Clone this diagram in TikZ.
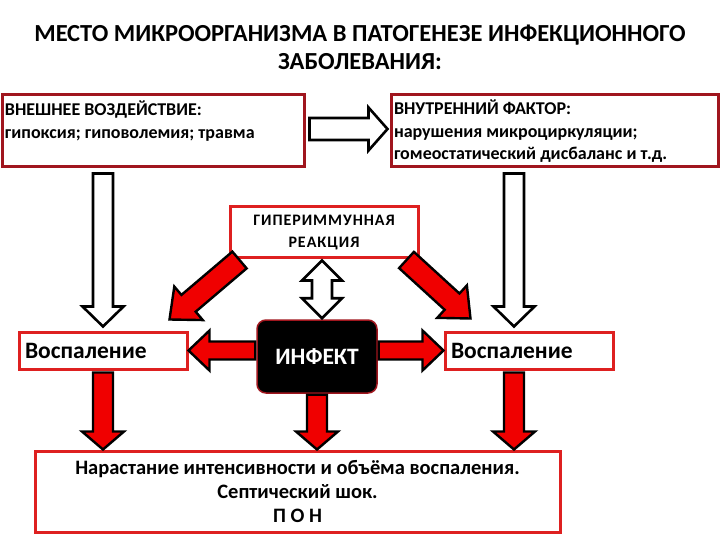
\documentclass[tikz,border=0pt]{standalone}
\usepackage{fontspec}
\setmainfont{Carlito}
\usetikzlibrary{calc}
\definecolor{darkbox}{RGB}{160,22,30}
\definecolor{redbox}{RGB}{222,32,32}
\definecolor{arrred}{RGB}{240,0,0}
\tikzset{
  frame/.style={draw=darkbox, line width=3pt, fill=white, inner sep=0pt},
  rframe/.style={draw=redbox, line width=3pt, fill=white, inner sep=0pt},
  hollow/.style={draw=black, fill=white, line width=2.6pt, line join=miter},
  redarrow/.style={draw=black, fill=arrred, line width=2.4pt, line join=miter},
}
% block arrow: #1 style, #2 from, #3 to, #4 shaft half width, #5 head half width, #6 head length
\newcommand\barrow[6]{%
  \coordinate (bah) at ($(#3)!#6!(#2)$);
  \draw[#1] ($(#2)!#4!-90:(#3)$) -- ($(bah)!#4!-90:(#3)$) -- ($(bah)!#5!-90:(#3)$)
    -- (#3) -- ($(bah)!#5!90:(#3)$) -- ($(bah)!#4!90:(#3)$) -- ($(#2)!#4!90:(#3)$) -- cycle;
}
% double block arrow
\newcommand\dbarrow[6]{%
  \coordinate (bha) at ($(#2)!#6!(#3)$);
  \coordinate (bhb) at ($(#3)!#6!(#2)$);
  \draw[#1] (#2) -- ($(bha)!#5!90:(#3)$) -- ($(bha)!#4!90:(#3)$) -- ($(bhb)!#4!90:(#3)$)
    -- ($(bhb)!#5!90:(#3)$) -- (#3) -- ($(bhb)!#5!-90:(#3)$) -- ($(bhb)!#4!-90:(#3)$)
    -- ($(bha)!#4!-90:(#3)$) -- ($(bha)!#5!-90:(#3)$) -- cycle;
}
\begin{document}
\begin{tikzpicture}[x=1pt,y=-1pt]
\useasboundingbox (0,0) rectangle (720,540);
\fill[white] (0,0) rectangle (720,540);

\node[font=\fontsize{24.5}{28}\selectfont\bfseries, align=center] (title) at (360,47)
  {МЕСТО МИКРООРГАНИЗМА В ПАТОГЕНЕЗЕ ИНФЕКЦИОННОГО\\ЗАБОЛЕВАНИЯ:};

\node[frame, minimum width=302pt, minimum height=72pt] (ext) at (153,131)
  {\parbox[c][61pt][t]{296pt}{\fontsize{18}{23}\selectfont\bfseries ВНЕШНЕЕ ВОЗДЕЙСТВИЕ:\\ гипоксия; гиповолемия; травма}};
\node[frame, minimum width=327pt, minimum height=72pt] (int) at (554.5,131)
  {\parbox[c][62pt][t]{321pt}{\fontsize{18}{22.5}\selectfont\bfseries ВНУТРЕННИЙ ФАКТОР:\\ нарушения микроциркуляции;\\ гомеостатический дисбаланс и т.д.}};

\node[rframe, minimum width=188pt, minimum height=50pt] (hyp) at (324,232)
  {\raisebox{-3pt}[0pt][0pt]{\parbox{184pt}{\centering\fontsize{16}{22}\selectfont\bfseries\addfontfeatures{LetterSpace=6}ГИПЕРИММУННАЯ\\РЕАКЦИЯ}}};

\node[rframe, minimum width=168pt, minimum height=37pt, text width=156pt, align=left,
  font=\fontsize{23.5}{26}\selectfont\bfseries] (vosL) at (103,350.5) {Воспаление};
\node[rframe, minimum width=168pt, minimum height=37pt, text width=156pt, align=left,
  font=\fontsize{23.5}{26}\selectfont\bfseries] (vosR) at (529,350.5) {Воспаление};

\node[draw=darkbox, fill=black, rounded corners=9pt, line width=1.5pt, minimum width=120pt,
  minimum height=73pt, text=white, font=\fontsize{23.5}{26}\selectfont\bfseries] (inf) at (317,356.5) {ИНФЕКТ};

\node[rframe, minimum width=525pt, minimum height=81pt, align=center,
  font=\fontsize{20.5}{24}\selectfont\bfseries] (bot) at (297.5,491.5)
  {Нарастание интенсивности и объёма воспаления.\\Септический шок.\\П О Н};

\coordinate (cR) at (514,0);
\coordinate (dbl) at (322,0);

% hollow arrows
\barrow{hollow}{$(ext.east)+(4,-2)$}{$(int.west)+(-2,-2)$}{11pt}{21.5pt}{19pt}
\barrow{hollow}{$(ext.south -| vosL)+(0,5)$}{$(vosL.north)+(0,-4)$}{10pt}{20.5pt}{20pt}
\barrow{hollow}{$(int.south -| cR)+(0,5)$}{$(vosR.north -| cR)+(0,-4)$}{10pt}{20.5pt}{20pt}
\dbarrow{hollow}{$(hyp.south -| dbl)+(0,2)$}{$(inf.north -| dbl)+(0,-1)$}{10pt}{20pt}{20pt}

% red arrows
\barrow{redarrow}{$(hyp.south west)+(11,1.5)$}{$(vosL.north east)+(-19,-11)$}{11pt}{22pt}{25pt}
\barrow{redarrow}{$(hyp.south east)+(-13,1.5)$}{$(vosR.north west)+(27,-12)$}{11pt}{22pt}{25pt}
\barrow{redarrow}{$(inf.west |- vosL.east)+(-1,0)$}{vosL.east}{9pt}{20pt}{21pt}
\barrow{redarrow}{$(inf.east |- vosR.west)+(1,0)$}{vosR.west}{9pt}{20pt}{21pt}
\barrow{redarrow}{$(vosL.south)+(0,2)$}{bot.north -| vosL}{10pt}{21pt}{18pt}
\barrow{redarrow}{$(inf.south)+(0,1)$}{bot.north -| inf}{10pt}{21pt}{18pt}
\barrow{redarrow}{$(vosR.south -| cR)+(0,2)$}{bot.north -| cR}{10pt}{21pt}{18pt}
\end{tikzpicture}
\end{document}
